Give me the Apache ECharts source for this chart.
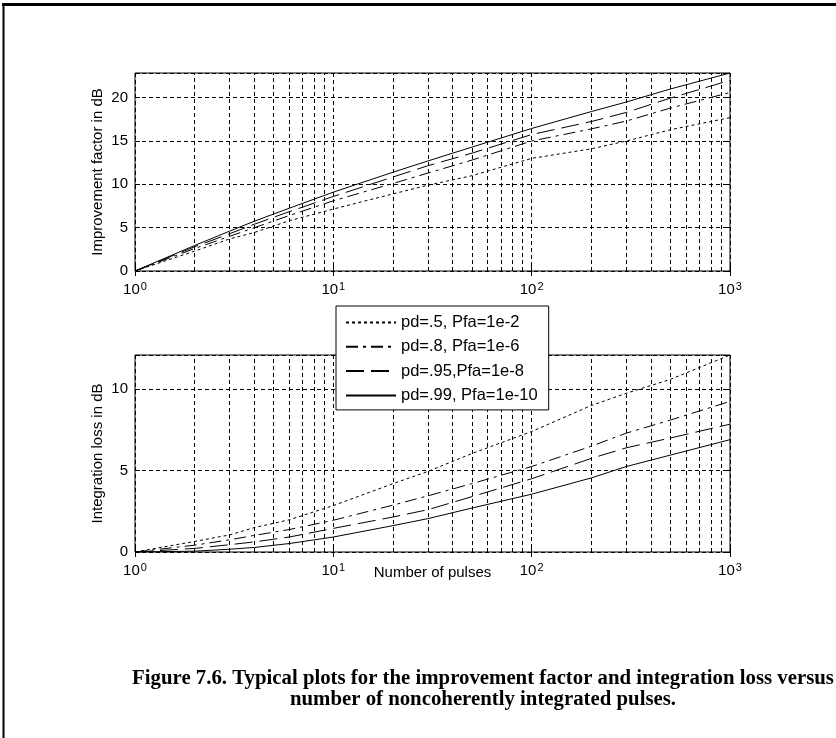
<!DOCTYPE html>
<html>
<head>
<meta charset="utf-8">
<script src="https://cdn.jsdelivr.net/npm/echarts@6/dist/echarts.min.js"></script>
<style>
  html, body { margin: 0; padding: 0; background: #fff; }
  #chart { width: 836px; height: 738px; }
</style>
</head>
<body>
<div id="chart"></div>
<script>
// Number of noncoherently integrated pulses
const pulses = [1, 2, 3, 4, 6, 10, 20, 30, 50, 100, 200, 300, 500, 1000];

// Legend names, one per (pd, Pfa) case
const caseNames = ['pd=.5, Pfa=1e-2', 'pd=.8, Pfa=1e-6', 'pd=.95,Pfa=1e-8', 'pd=.99, Pfa=1e-10'];

// Improvement factor in dB
const improve05 = [0, 2.3, 3.7, 4.45, 5.8, 7.15, 8.9, 9.9, 11.0, 13.0, 14.1, 15.0, 16.3, 17.7];
const improve08 = [0, 2.6, 4.0, 5.0, 6.4, 8.1, 10.1, 11.3, 12.8, 15.0, 16.4, 17.3, 18.8, 20.6];
const improve095 = [0, 2.8, 4.3, 5.4, 6.85, 8.6, 10.85, 12.15, 13.6, 15.75, 17.25, 18.3, 19.95, 22.0];
const improve099 = [0, 2.95, 4.6, 5.75, 7.25, 9.1, 11.4, 12.7, 14.3, 16.45, 18.4, 19.5, 21.0, 22.85];

// Integration loss in dB
const loss05 = [0, 0.65, 1.05, 1.5, 1.98, 2.85, 4.2, 4.95, 6.05, 7.4, 9.0, 9.75, 10.6, 12.1];
const loss08 = [0, 0.42, 0.75, 1.02, 1.38, 1.95, 2.88, 3.45, 4.2, 5.25, 6.5, 7.3, 8.1, 9.25];
const loss095 = [0, 0.22, 0.45, 0.62, 0.92, 1.45, 2.15, 2.6, 3.4, 4.5, 5.75, 6.4, 7.0, 7.85];
const loss099 = [0, 0.05, 0.17, 0.28, 0.52, 0.92, 1.62, 2.05, 2.7, 3.55, 4.55, 5.25, 5.95, 6.9];

// In-between grid positions of the log axis (2..9 of each decade)
const minorGrid = [2, 3, 4, 5, 6, 7, 8, 9, 20, 30, 40, 50, 60, 70, 80, 90, 200, 300, 400, 500, 600, 700, 800, 900];

const dashStyles = [[3, 3], [12, 5, 3, 5], [18, 7], 'solid'];
const SANS = '"Liberation Sans", Arial, sans-serif';
const SERIF = '"Liberation Serif", "Times New Roman", serif';
const gridDash = [4, 3];
const Y_MAX = [22.85, 12.1];

function pairs(ys) { return pulses.map((n, i) => [n, ys[i]]); }

function logXAxis(gridIndex) {
  return {
    type: 'log', logBase: 10, gridIndex, min: 1, max: 1000,
    axisLine: { show: false },
    axisTick: { show: true, inside: true, length: 5, lineStyle: { color: '#000' } },
    splitLine: { show: true, lineStyle: { color: '#000', type: gridDash, width: 1 } },
    axisLabel: {
      margin: 10,
      formatter: v => '{b|10}{s|' + Math.round(Math.log10(v)) + '}',
      rich: {
        b: { fontFamily: SANS, fontSize: 15, color: '#000', lineHeight: 18 },
        s: { fontFamily: SANS, fontSize: 11, color: '#000', verticalAlign: 'top', lineHeight: 10, padding: [0, 0, 0, 1] }
      }
    }
  };
}

// Tick-only axes that close the box on the top and right sides
function topTicks(gridIndex) {
  return {
    type: 'log', logBase: 10, gridIndex, min: 1, max: 1000, position: 'top',
    axisLine: { show: false }, splitLine: { show: false }, axisLabel: { show: false },
    axisTick: { show: true, inside: true, length: 5, lineStyle: { color: '#000' } }
  };
}
function rightTicks(gridIndex) {
  return {
    type: 'value', gridIndex, min: 0, max: Y_MAX[gridIndex], interval: 5, position: 'right',
    axisLine: { show: false }, splitLine: { show: false }, axisLabel: { show: false },
    axisTick: { show: true, inside: true, length: 5, lineStyle: { color: '#000' } }
  };
}

function valueYAxis(gridIndex, name, gap) {
  return {
    type: 'value', gridIndex, min: 0, max: Y_MAX[gridIndex], interval: 5,
    name, nameLocation: 'middle', nameGap: gap, nameMoveOverlap: false,
    nameTextStyle: { fontFamily: SANS, fontSize: 15, color: '#000' },
    axisLine: { show: false },
    axisTick: { show: true, inside: true, length: 5, lineStyle: { color: '#000' } },
    splitLine: { show: true, lineStyle: { color: '#000', type: gridDash, width: 1 } },
    axisLabel: {
      margin: 7, fontFamily: SANS, fontSize: 15, color: '#000',
      formatter: v => (Math.abs(v % 5) < 1e-9 ? String(v) : '')
    }
  };
}

function curve(name, ys, k, gi) {
  const s = {
    name, type: 'line', xAxisIndex: gi, yAxisIndex: gi,
    data: pairs(ys), showSymbol: false, symbol: 'none',
    lineStyle: { color: '#000', width: 1, type: dashStyles[k] },
    itemStyle: { color: '#000' },
    z: 3
  };
  if (k === 0) {
    s.markLine = {
      silent: true, symbol: 'none', animation: false,
      label: { show: false },
      lineStyle: { color: '#000', type: gridDash, width: 1 },
      emphasis: { disabled: true },
      data: minorGrid.map(v => ({ xAxis: v }))
    };
  }
  return s;
}

const chart = echarts.init(document.getElementById('chart'), null, { renderer: 'canvas' });

chart.setOption({
  animation: false,
  backgroundColor: '#fff',
  grid: [
    { left: 135, top: 73, width: 595, height: 198, show: true, borderColor: '#000', borderWidth: 1 },
    { left: 135, top: 355, width: 595, height: 197, show: true, borderColor: '#000', borderWidth: 1 }
  ],
  xAxis: [
    logXAxis(0),
    Object.assign(logXAxis(1), {
      name: 'Number of pulses', nameLocation: 'middle', nameGap: 13, nameMoveOverlap: false,
      nameTextStyle: { fontFamily: SANS, fontSize: 15, color: '#000', verticalAlign: 'top' }
    }),
    topTicks(0),
    topTicks(1)
  ],
  yAxis: [
    valueYAxis(0, 'Improvement factor in dB', 30),
    valueYAxis(1, 'Integration loss in dB', 30),
    rightTicks(0),
    rightTicks(1)
  ],
  legend: {
    data: caseNames,
    orient: 'vertical',
    left: 336, top: 306,
    itemWidth: 50, itemHeight: 14, itemGap: 7.3,
    padding: [8, 11, 6, 9],
    backgroundColor: '#fff',
    borderColor: '#000', borderWidth: 1, borderRadius: 0,
    itemStyle: { color: 'transparent', borderColor: 'transparent', borderWidth: 0, opacity: 0 },
    textStyle: { fontFamily: SANS, fontSize: 16.5, color: '#000' },
    z: 10
  },
  series: [
    curve(caseNames[0], improve05, 0, 0),
    curve(caseNames[1], improve08, 1, 0),
    curve(caseNames[2], improve095, 2, 0),
    curve(caseNames[3], improve099, 3, 0),
    curve(caseNames[0], loss05, 0, 1),
    curve(caseNames[1], loss08, 1, 1),
    curve(caseNames[2], loss095, 2, 1),
    curve(caseNames[3], loss099, 3, 1)
  ],
  graphic: [
    { type: 'line', shape: { x1: 2, y1: 4.5, x2: 836, y2: 4.5 }, style: { stroke: '#000', lineWidth: 3 } },
    { type: 'line', shape: { x1: 3.5, y1: 3, x2: 3.5, y2: 738 }, style: { stroke: '#000', lineWidth: 2 } },
    {
      type: 'text', x: 483, y: 668,
      style: {
        text: 'Figure 7.6. Typical plots for the improvement factor and integration loss versus\nnumber of noncoherently integrated pulses.',
        font: 'bold 20.8px ' + SERIF, fill: '#000', textAlign: 'center', textVerticalAlign: 'top', lineHeight: 21
      }
    }
  ]
});
</script>
</body>
</html>
